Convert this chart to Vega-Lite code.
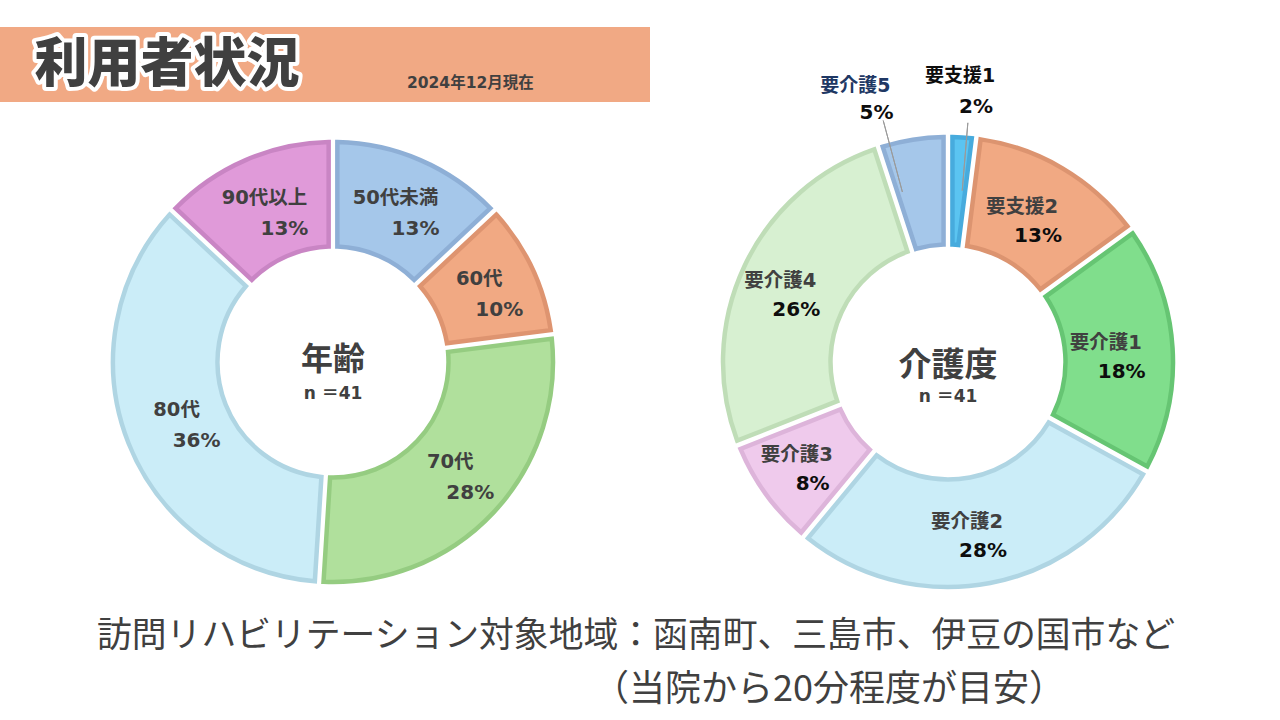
{
  "$schema": "https://vega.github.io/schema/vega-lite/v6.json",
  "background": "white",
  "padding": {"left": 0, "top": 27, "right": 0, "bottom": 0},
  "bounds": "flush",
  "spacing": 0,
  "columns": 2,
  "config": {"view": {"stroke": null}, "text": {"font": "DejaVu Sans, Noto Sans CJK JP"}},
  "resolve": {"scale": {"fill": "independent", "stroke": "independent", "theta": "independent"}},
  "concat": [
    {
      "width": 650,
      "height": 75,
      "view": {"fill": "#F1A984", "stroke": null},
      "data": {"values": [{}]},
      "layer": [
        {"mark": {"type": "text", "text": "利用者状況", "font": "Noto Sans CJK JP", "fontWeight": 900, "fontSize": 53, "fill": "white", "stroke": "white", "strokeWidth": 8, "strokeJoin": "round", "dx": -158, "dy": 1}},
        {"mark": {"type": "text", "text": "利用者状況", "font": "Noto Sans CJK JP", "fontWeight": 900, "fontSize": 53, "fill": "#404040", "dx": -158, "dy": 1}},
        {"mark": {"type": "text", "text": "2024年12月現在", "fontWeight": "bold", "fontSize": 15.5, "fill": "#404040", "align": "left", "dx": 82, "dy": 18}}
      ]
    },
    {
      "width": 564,
      "height": 75,
      "data": {"values": [{}]},
      "mark": {"type": "text", "text": ""}
    },
    {
      "width": 666,
      "height": 520,
      "layer": [
        {
          "data": {"values": [
            {"i": 1, "cat": "50代未満", "pct": 0.13},
            {"i": 2, "cat": "60代", "pct": 0.10},
            {"i": 3, "cat": "70代", "pct": 0.28},
            {"i": 4, "cat": "80代", "pct": 0.36},
            {"i": 5, "cat": "90代以上", "pct": 0.13}
          ]},
          "encoding": {
            "theta": {"field": "pct", "type": "quantitative", "stack": true},
            "order": {"field": "i", "type": "quantitative"},
            "detail": {"field": "cat", "type": "nominal"}
          },
          "layer": [
            {
              "mark": {"type": "arc", "innerRadius": 115.5, "outerRadius": 220, "padAngle": 0.035, "strokeWidth": 4.5},
              "encoding": {
                "fill": {"field": "cat", "type": "nominal", "legend": null, "scale": {"domain": ["50代未満", "60代", "70代", "80代", "90代以上"], "range": ["#A5C7EA", "#F1A983", "#B0E09C", "#CBEDF8", "#E09AD9"]}},
                "stroke": {"field": "cat", "type": "nominal", "legend": null, "scale": {"domain": ["50代未満", "60代", "70代", "80代", "90代以上"], "range": ["#8EAFD6", "#DE9470", "#95CC81", "#AFD5E3", "#C985C4"]}}
              }
            },
            {
              "mark": {"type": "text", "radius": 165, "dx": -3, "dy": -13, "fontSize": 19.5, "fontWeight": "bold", "fill": "#404040"},
              "encoding": {"text": {"field": "cat", "type": "nominal"}}
            },
            {
              "mark": {"type": "text", "radius": 165, "dx": 17, "dy": 18, "fontSize": 20, "fontWeight": "bold", "fill": "#404040"},
              "encoding": {"text": {"field": "pct", "type": "quantitative", "format": ".0%"}}
            }
          ]
        },
        {
          "data": {"values": [{}]},
          "mark": {"type": "text", "text": "年齢", "font": "Noto Sans CJK JP", "fontSize": 32, "fontWeight": "bold", "fill": "#404040", "dy": -2}
        },
        {
          "data": {"values": [{}]},
          "mark": {"type": "text", "text": "n ＝41", "fontSize": 17, "fontWeight": "bold", "fill": "#404040", "dy": 32}
        }
      ]
    },
    {
      "width": 564,
      "height": 520,
      "layer": [
        {
          "data": {"values": [
            {"i": 1, "cat": "要支援1", "pct": 0.02},
            {"i": 2, "cat": "要支援2", "pct": 0.13},
            {"i": 3, "cat": "要介護1", "pct": 0.18},
            {"i": 4, "cat": "要介護2", "pct": 0.28},
            {"i": 5, "cat": "要介護3", "pct": 0.08},
            {"i": 6, "cat": "要介護4", "pct": 0.26},
            {"i": 7, "cat": "要介護5", "pct": 0.05}
          ]},
          "encoding": {
            "theta": {"field": "pct", "type": "quantitative", "stack": true},
            "order": {"field": "i", "type": "quantitative"},
            "detail": {"field": "cat", "type": "nominal"}
          },
          "layer": [
            {
              "mark": {"type": "arc", "innerRadius": 117.5, "outerRadius": 225, "padAngle": 0.035, "strokeWidth": 4.5},
              "encoding": {
                "fill": {"field": "cat", "type": "nominal", "legend": null, "scale": {"domain": ["要支援1", "要支援2", "要介護1", "要介護2", "要介護3", "要介護4", "要介護5"], "range": ["#5BC4F1", "#F1A983", "#80DE8C", "#CBEDF8", "#EFCAEC", "#D7F0D1", "#A5C7EA"]}},
                "stroke": {"field": "cat", "type": "nominal", "legend": null, "scale": {"domain": ["要支援1", "要支援2", "要介護1", "要介護2", "要介護3", "要介護4", "要介護5"], "range": ["#47ABDD", "#DC9470", "#66C573", "#AFD5E3", "#DDB4DA", "#BFDDB7", "#8EAFD6"]}}
              }
            },
            {
              "mark": {"type": "arc", "innerRadius": 172, "outerRadius": 240, "padAngle": 1.2, "fill": "transparent", "strokeWidth": 1, "thetaOffset": 0.02, "theta2Offset": 0.02},
              "encoding": {"stroke": {"condition": {"test": "datum.cat === '要支援1'", "value": "#9A9A9A"}, "value": "transparent"}}
            },
            {
              "mark": {"type": "arc", "innerRadius": 176, "outerRadius": 250, "padAngle": 1.2, "fill": "transparent", "strokeWidth": 1, "thetaOffset": -0.105, "theta2Offset": -0.105},
              "encoding": {"stroke": {"condition": {"test": "datum.cat === '要介護5'", "value": "#9A9A9A"}, "value": "transparent"}}
            },
            {
              "mark": {"type": "text", "radius": 171, "dx": -13, "dy": -8, "fontSize": 19.5, "fontWeight": "bold", "fill": "#404040"},
              "encoding": {"text": {"condition": {"test": "datum.i > 1 && datum.i < 7", "field": "cat", "type": "nominal"}, "value": ""}}
            },
            {
              "mark": {"type": "text", "radius": 171, "dx": 3, "dy": 21, "fontSize": 20, "fontWeight": "bold", "fill": "#0D0D0D"},
              "encoding": {"text": {"condition": {"test": "datum.i > 1 && datum.i < 7", "field": "pct", "type": "quantitative", "format": ".0%"}, "value": ""}}
            },
            {
              "mark": {"type": "text", "radius": 272, "dx": -5, "dy": -15, "fontSize": 19, "fontWeight": "bold", "fill": "#0D0D0D"},
              "encoding": {"text": {"condition": {"test": "datum.i === 1", "field": "cat", "type": "nominal"}, "value": ""}}
            },
            {
              "mark": {"type": "text", "radius": 272, "dx": 11, "dy": 16, "fontSize": 20, "fontWeight": "bold", "fill": "#0D0D0D"},
              "encoding": {"text": {"condition": {"test": "datum.i === 1", "field": "pct", "type": "quantitative", "format": ".0%"}, "value": ""}}
            },
            {
              "mark": {"type": "text", "radius": 272, "dx": -50, "dy": -7, "fontSize": 19, "fontWeight": "bold", "fill": "#1F3864"},
              "encoding": {"text": {"condition": {"test": "datum.i === 7", "field": "cat", "type": "nominal"}, "value": ""}}
            },
            {
              "mark": {"type": "text", "radius": 272, "dx": -29, "dy": 20, "fontSize": 20, "fontWeight": "bold", "fill": "#0D0D0D"},
              "encoding": {"text": {"condition": {"test": "datum.i === 7", "field": "pct", "type": "quantitative", "format": ".0%"}, "value": ""}}
            }
          ]
        },
        {
          "data": {"values": [{}]},
          "mark": {"type": "text", "text": "介護度", "font": "Noto Sans CJK JP", "fontSize": 33, "fontWeight": "bold", "fill": "#404040", "dy": 4}
        },
        {
          "data": {"values": [{}]},
          "mark": {"type": "text", "text": "n ＝41", "fontSize": 17, "fontWeight": "bold", "fill": "#404040", "dy": 35}
        }
      ]
    },
    {
      "width": 194,
      "height": 98,
      "data": {"values": [{}]},
      "layer": [
        {"mark": {"type": "text", "text": "訪問リハビリテーション対象地域：函南町、三島市、伊豆の国市など", "font": "Noto Sans CJK JP", "fontSize": 34.8, "align": "left", "baseline": "middle", "fill": "#404040", "dy": -34}},
        {"mark": {"type": "text", "text": "（当院から20分程度が目安）", "font": "Noto Sans CJK JP", "fontSize": 36, "align": "left", "baseline": "middle", "fill": "#404040", "dx": 496, "dy": 19}}
      ]
    }
  ]
}
